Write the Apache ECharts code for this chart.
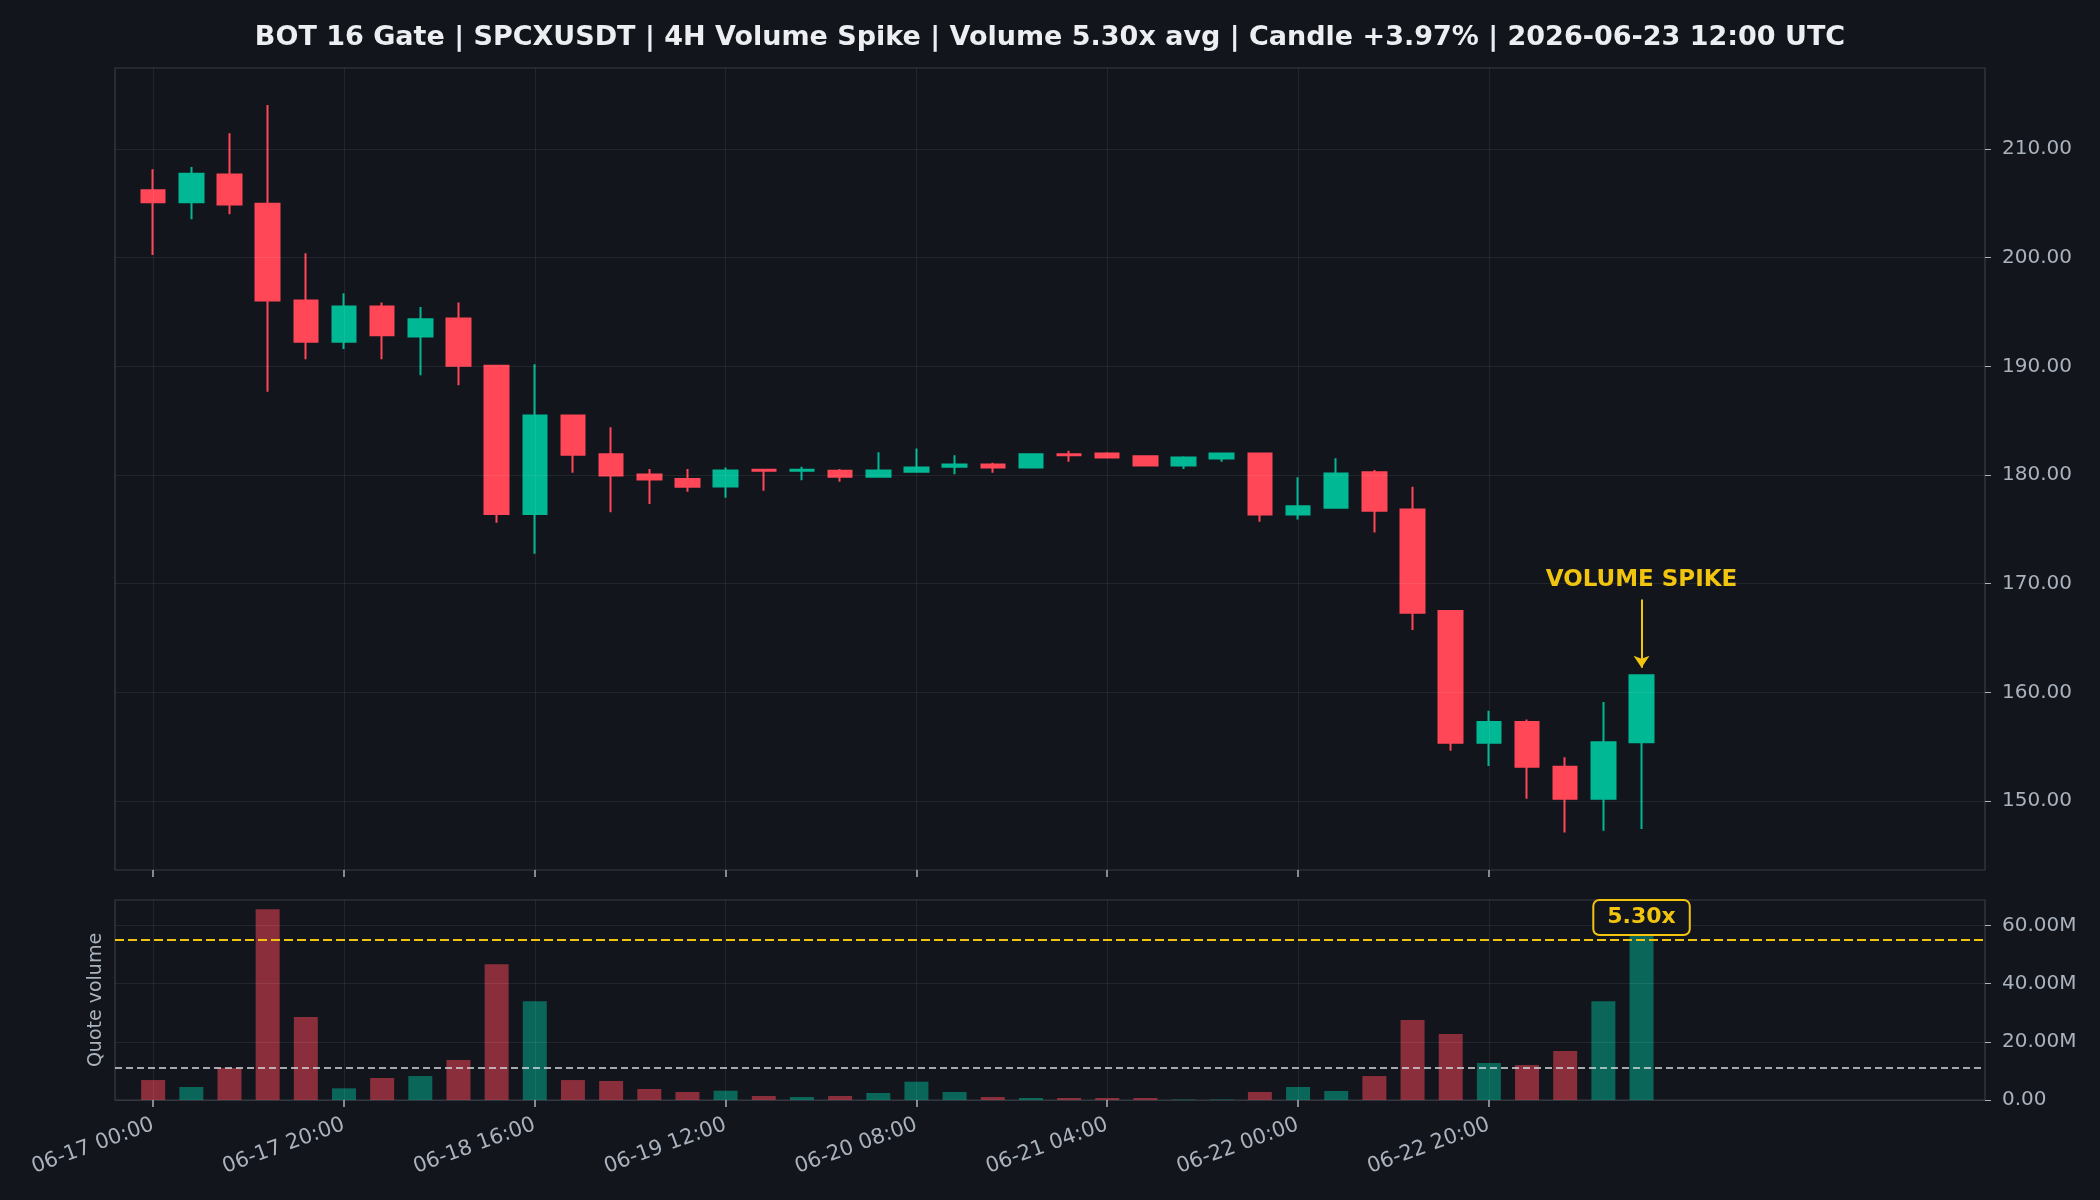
<!DOCTYPE html>
<html>
<head>
<meta charset="utf-8">
<title>SPCXUSDT 4H Volume Spike</title>
<script src="https://cdn.jsdelivr.net/npm/echarts@6/dist/echarts.min.js"></script>
<style>
    html, body { margin: 0; padding: 0; background: #12151c; }
    #chart { width: 2100px; height: 1200px; }
</style>
</head>
<body>
<div id="chart"></div>
<script>
    // 4H candles starting 2026-06-17 00:00 UTC
    const startTime = Date.UTC(2026, 5, 17, 0, 0);
    const stepHours = 4;
    const slotRange = [-1, 48];

    const opens  = [206.20, 205.10, 207.65, 204.95, 196.05, 192.25, 195.50, 192.75, 194.39, 190.05,
                    176.42, 185.47, 181.90, 180.04, 179.62, 178.95, 180.47, 180.38, 180.38, 179.83,
                    180.30, 180.75, 180.96, 180.69, 181.91, 181.97, 181.73, 180.87, 181.51, 181.97,
                    176.36, 176.98, 180.26, 176.83, 167.48, 155.37, 157.27, 153.16, 150.21, 155.40];
    const closes = [205.10, 207.73, 204.90, 196.05, 192.25, 195.50, 192.86, 194.33, 190.05, 176.42,
                    185.47, 181.85, 179.95, 179.58, 178.91, 180.41, 180.38, 180.48, 179.83, 180.41,
                    180.69, 180.96, 180.69, 181.91, 181.82, 181.61, 180.87, 181.61, 181.97, 176.36,
                    177.13, 180.14, 176.70, 167.33, 155.37, 157.27, 153.16, 150.21, 155.40, 161.57];
    const lows   = [200.25, 203.53, 203.99, 187.65, 190.65, 191.60, 190.65, 189.18, 188.26, 175.60,
                    172.74, 180.20, 176.58, 177.34, 178.45, 177.90, 178.54, 179.52, 179.37, 179.83,
                    180.29, 180.07, 180.20, 180.69, 181.21, 181.61, 180.87, 180.56, 181.21, 175.69,
                    175.90, 176.98, 174.71, 165.73, 154.63, 153.22, 150.21, 147.09, 147.27, 147.42];
    const highs  = [208.13, 208.35, 211.44, 214.05, 200.40, 196.72, 195.87, 195.45, 195.87, 190.15,
                    190.19, 185.55, 184.40, 180.56, 180.56, 180.69, 180.50, 180.75, 180.56, 182.10,
                    182.44, 181.82, 181.12, 182.00, 182.22, 182.10, 181.75, 181.73, 182.00, 182.00,
                    179.80, 181.55, 180.45, 178.92, 167.48, 158.31, 157.51, 154.02, 159.11, 161.65];
    // quote volume, millions
    const volumesM = [6.86, 4.46, 10.98, 65.5, 28.47, 4.0, 7.55, 8.23, 13.72, 46.65,
                      33.96, 6.86, 6.52, 3.77, 2.74, 3.2, 1.37, 1.03, 1.37, 2.4,
                      6.29, 2.74, 1.03, 0.69, 0.69, 0.69, 0.69, 0.15, 0.15, 2.74,
                      4.46, 3.09, 8.23, 27.44, 22.64, 12.69, 12.0, 16.8, 33.96, 58.2];

    const tickLabels = ['06-17 00:00', '06-17 20:00', '06-18 16:00', '06-19 12:00',
                        '06-20 08:00', '06-21 04:00', '06-22 00:00', '06-22 20:00'];
    const priceTicks = [150, 160, 170, 180, 190, 200, 210];
    const volumeTicks = [0, 20, 40, 60];
    const priceRange = [143.65, 217.45];
    const volumeRange = [0, 68.7];

    const avgVolumeM = 10.98;
    const spikeLevelM = 54.9;
    const spikeRatio = '5.30x';
    const spikeArrow = [168.55, 162.26];

    const titleText = 'BOT 16 Gate | SPCXUSDT | 4H Volume Spike | Volume 5.30x avg | Candle +3.97% | 2026-06-23 12:00 UTC';

    const bg = '#12151c';
    const upColor = '#00b894';
    const downColor = '#ff4757';
    const gold = '#f1c40f';
    const gridColor = 'rgba(255,255,255,0.07)';
    const frameColor = '#363c47';
    const textColor = '#aab2bd';
    const font = 'DejaVu Sans';

    function pad(n) { return (n < 10 ? '0' : '') + n; }
    function slotLabel(k) {
        const d = new Date(startTime + k * stepHours * 3600 * 1000);
        return pad(d.getUTCMonth() + 1) + '-' + pad(d.getUTCDate()) + ' ' +
            pad(d.getUTCHours()) + ':' + pad(d.getUTCMinutes());
    }

    const categories = [];
    const candleData = [];
    const volumeData = [];
    for (let k = slotRange[0]; k <= slotRange[1]; k++) {
        categories.push(slotLabel(k));
        if (k >= 0 && k < opens.length) {
            candleData.push([opens[k], closes[k], lows[k], highs[k]]);
            const up = closes[k] >= opens[k];
            volumeData.push({
                value: volumesM[k],
                itemStyle: {color: up ? 'rgba(0,184,148,0.5)' : 'rgba(255,71,87,0.5)'}
            });
        } else {
            candleData.push('-');
            volumeData.push('-');
        }
    }
    const lastCat = categories[opens.length - 1 - slotRange[0]];
    const isTick = (idx, value) => tickLabels.indexOf(value) >= 0;

    const xAxisBase = {
        type: 'category',
        data: categories,
        boundaryGap: false,
        z: 3,
        axisLine: {show: false},
        axisTick: {show: true, interval: isTick, length: 7, lineStyle: {color: textColor, width: 1.5}},
        splitLine: {show: true, interval: isTick, lineStyle: {color: gridColor, width: 1}}
    };

    const option = {
        backgroundColor: bg,
        animation: false,
        textStyle: {fontFamily: font},
        title: {
            text: titleText,
            left: 'center',
            top: 19,
            textStyle: {color: '#eceef1', fontSize: 27, fontWeight: 'bold', fontFamily: font}
        },
        grid: [
            {left: 115, right: 115, top: 68, height: 802, show: true, borderColor: frameColor, borderWidth: 1.2},
            {left: 115, right: 115, top: 900, height: 200, show: true, borderColor: frameColor, borderWidth: 1.2}
        ],
        xAxis: [
            Object.assign({}, xAxisBase, {gridIndex: 0, axisLabel: {show: false}}),
            Object.assign({}, xAxisBase, {
                gridIndex: 1,
                axisLabel: {
                    show: true, interval: isTick, rotate: 20, margin: 24,
                    color: textColor, fontSize: 21, fontFamily: font
                }
            })
        ],
        yAxis: [
            {
                type: 'value', gridIndex: 0, position: 'right', z: 3,
                min: priceRange[0], max: priceRange[1], minInterval: 10, maxInterval: 10,
                axisLine: {show: false},
                axisTick: {show: true, customValues: priceTicks, length: 6, lineStyle: {color: textColor}},
                axisLabel: {
                    customValues: priceTicks, margin: 17, color: textColor, fontSize: 20, fontFamily: font,
                    formatter: v => v.toFixed(2)
                },
                splitLine: {show: true, lineStyle: {color: gridColor, width: 1}}
            },
            {
                type: 'value', gridIndex: 1, position: 'right', z: 3,
                min: volumeRange[0], max: volumeRange[1], minInterval: 20, maxInterval: 20,
                axisLine: {show: false},
                axisTick: {show: true, customValues: volumeTicks, length: 6, lineStyle: {color: textColor}},
                axisLabel: {
                    customValues: volumeTicks, margin: 17, color: textColor, fontSize: 20, fontFamily: font,
                    formatter: v => v === 0 ? '0.00' : v.toFixed(2) + 'M'
                },
                splitLine: {show: true, lineStyle: {color: gridColor, width: 1}}
            },
            {
                type: 'value', gridIndex: 1, position: 'left',
                min: volumeRange[0], max: volumeRange[1],
                name: 'Quote volume', nameLocation: 'middle', nameRotate: 90, nameGap: 9,
                nameTextStyle: {color: textColor, fontSize: 19, fontFamily: font},
                axisLine: {show: false}, axisTick: {show: false},
                axisLabel: {show: false}, splitLine: {show: false}
            }
        ],
        series: [
            {
                name: 'Price',
                type: 'candlestick',
                xAxisIndex: 0,
                yAxisIndex: 0,
                barWidth: 24,
                data: candleData,
                itemStyle: {
                    color: upColor, color0: downColor,
                    borderColor: upColor, borderColor0: downColor, borderWidth: 2
                },
                markLine: {
                    silent: true,
                    symbol: ['none', 'arrow'],
                    symbolSize: 12,
                    lineStyle: {color: gold, width: 2, type: 'solid'},
                    label: {
                        show: true, position: 'start', distance: 8,
                        formatter: 'VOLUME SPIKE', color: gold,
                        fontSize: 23, fontWeight: 'bold', fontFamily: font
                    },
                    data: [[{coord: [lastCat, spikeArrow[0]]}, {coord: [lastCat, spikeArrow[1]]}]]
                }
            },
            {
                name: 'Quote volume',
                type: 'bar',
                xAxisIndex: 1,
                yAxisIndex: 1,
                barWidth: 24,
                data: volumeData,
                markLine: {
                    silent: true,
                    symbol: 'none',
                    label: {show: false},
                    data: [
                        {yAxis: avgVolumeM, lineStyle: {color: 'rgba(215,218,224,0.75)', width: 1.8, type: [7, 4]}},
                        {yAxis: spikeLevelM, lineStyle: {color: gold, width: 2.2, type: [9, 4]}}
                    ]
                },
                markPoint: {
                    silent: true,
                    data: [{
                        coord: [lastCat, volumesM[volumesM.length - 1]],
                        symbol: 'rect',
                        symbolSize: 1,
                        itemStyle: {color: 'rgba(0,0,0,0)'},
                        label: {
                            show: true,
                            position: 'inside',
                            offset: [0, -13],
                            formatter: spikeRatio,
                            color: gold,
                            fontSize: 22,
                            fontWeight: 'bold',
                            fontFamily: font,
                            lineHeight: 27,
                            backgroundColor: bg,
                            borderColor: gold,
                            borderWidth: 2,
                            borderRadius: 5,
                            padding: [3, 13, 3, 13]
                        }
                    }]
                }
            }
        ]
    };

    const chart = echarts.init(document.getElementById('chart'));
    chart.setOption(option);
</script>
</body>
</html>
